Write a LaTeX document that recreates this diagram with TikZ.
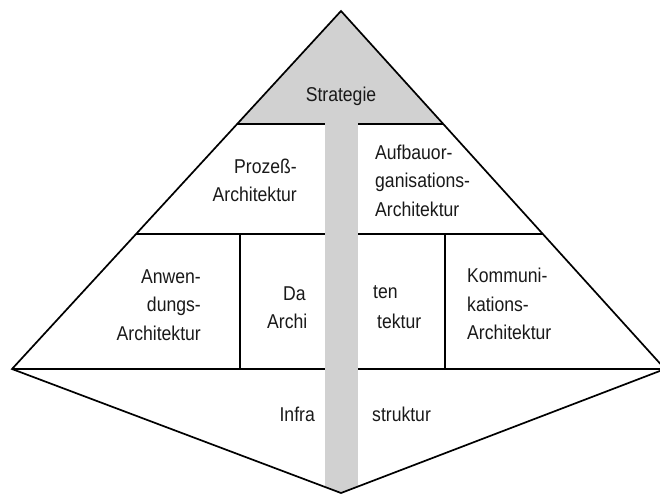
\documentclass[tikz,border=0pt]{standalone}
\usepackage{fontspec}
\setmainfont[FakeStretch=0.88]{Liberation Sans}
\usetikzlibrary{calc}
\definecolor{bargray}{RGB}{209,209,209}
\begin{document}
\begin{tikzpicture}[x=1pt,y=-1pt,
  edge/.style={line width=1.7pt, line join=miter},
  lbl/.style={inner sep=0pt, text=black!90, font=\fontsize{20}{28.5}\selectfont},
]
\clip (0,0) rectangle (660,495);
% outer diamond corners
\coordinate (apex) at (341,11);
\coordinate (lc) at (12,369);
\coordinate (rc) at (665,369);
\coordinate (bot) at (341,493);
% layer boundaries on the pyramid flanks
\coordinate (s1) at ($(apex)!0.3156!(lc)$);
\coordinate (s2) at ($(apex)!0.3156!(rc)$);
\coordinate (m1) at ($(apex)!0.6229!(lc)$);
\coordinate (m2) at ($(apex)!0.6229!(rc)$);
\coordinate (d1t) at (240,234);
\coordinate (d1b) at (240,369);
\coordinate (d2t) at (445,234);
\coordinate (d2b) at (445,369);

% strategy tip
\fill[bargray] (apex) -- (s2) -- (s1) -- cycle;
% layer lines and dividers
\draw[edge] (s1) -- (s2);
\draw[edge] (m1) -- (m2);
\draw[edge] (lc) -- (rc);
\draw[edge] (d1t) -- (d1b);
\draw[edge] (d2t) -- (d2b);
% central strategy bar
\begin{scope}
  \clip (apex) -- (rc) -- (bot) -- (lc) -- cycle;
  \fill[bargray] (325,120) rectangle (358,495);
\end{scope}
% outline
\draw[edge] (apex) -- (rc) -- (bot) -- (lc) -- cycle;

% labels
\node[lbl, anchor=base] (strat) at (341,101.7) {Strategie};
\node[lbl, anchor=east, align=right] (proz) at (297,180.5) {Prozeß-\\Architektur};
\node[lbl, anchor=west, align=left] (aufb) at (375,180.8) {Aufbauor-\\ganisations-\\Architektur};
\node[lbl, anchor=east, align=right] (anw) at (201,305) {Anwen-\\dungs-\\Architektur};
\node[lbl, anchor=base west] (da) at (283,300) {Da};
\node[lbl, anchor=base west] (archi) at (267,328.5) {Archi};
\node[lbl, anchor=base west] (ten) at (373,298.5) {ten};
\node[lbl, anchor=base west] (tektur) at (377,328.5) {tektur};
\node[lbl, anchor=west, align=left] (komm) at (467,304) {Kommuni-\\kations-\\Architektur};
\node[lbl, anchor=base east] (infra) at (315,421.7) {Infra};
\node[lbl, anchor=base west] (strukt) at (372,421.7) {struktur};
\end{tikzpicture}
\end{document}
